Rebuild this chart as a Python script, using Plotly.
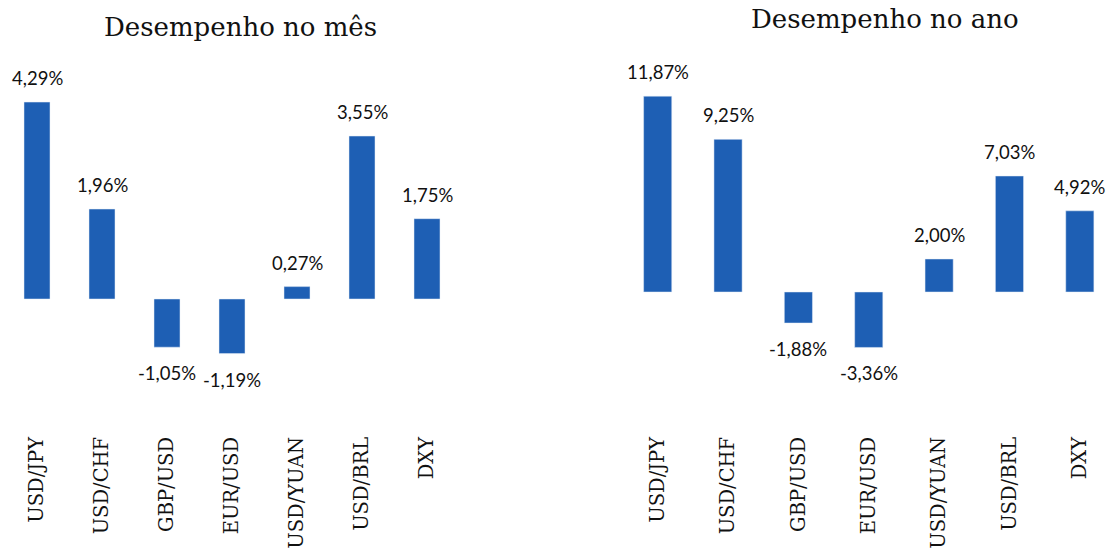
import plotly.graph_objects as go

categories = ["USD/JPY", "USD/CHF", "GBP/USD", "EUR/USD", "USD/YUAN", "USD/BRL", "DXY"]
month_values = [4.29, 1.96, -1.05, -1.19, 0.27, 3.55, 1.75]
year_values = [11.87, 9.25, -1.88, -3.36, 2.00, 7.03, 4.92]
titles = ["Desempenho no mês", "Desempenho no ano"]

BAR = "#1E5FB4"
W, H = 1115, 555

def fmt(v):
    return f"{v:.2f}".replace(".", ",") + "%"

fig = go.Figure()
fig.add_trace(go.Bar(x=categories, y=month_values, marker_color=BAR, xaxis="x", yaxis="y",
                     hoverinfo="x+y"))
fig.add_trace(go.Bar(x=categories, y=year_values, marker_color=BAR, xaxis="x2", yaxis="y2",
                     hoverinfo="x+y"))

annotations = []
for vals, xa, ya in [(month_values, "x", "y"), (year_values, "x2", "y2")]:
    for c, v in zip(categories, vals):
        annotations.append(dict(
            x=c, y=v, xref=xa, yref=ya, text=fmt(v), showarrow=False,
            yshift=24 if v >= 0 else -26, yanchor="middle",
            font=dict(family="Lato", size=18.5, color="#111111")))

annotations.append(dict(x=240 / W, y=1 - 27 / H, xref="paper", yref="paper", text=titles[0],
                        showarrow=False, xanchor="center", yanchor="middle",
                        font=dict(family="DejaVu Serif", size=26, color="#111111")))
annotations.append(dict(x=885 / W, y=1 - 2 / H, xref="paper", yref="paper", text=titles[1],
                        showarrow=False, xanchor="center", yanchor="top",
                        font=dict(family="DejaVu Serif", size=26, color="#111111")))

ydom = [(H - 432) / H, (H - 40) / H]
axis_common = dict(showgrid=False, zeroline=False, showline=False, ticks="",
                   tickangle=-90, tickfont=dict(family="DejaVu Serif", size=19.5, color="#111111"),
                   fixedrange=True)
yaxis_common = dict(showgrid=False, zeroline=False, showline=False, showticklabels=False,
                    ticks="", domain=ydom, fixedrange=True)

fig.update_layout(
    width=W, height=H,
    margin=dict(l=0, r=0, t=0, b=0),
    paper_bgcolor="white", plot_bgcolor="white",
    showlegend=False, bargap=0.6,
    xaxis=dict(domain=[4.5 / W, 459.5 / W], anchor="y", **axis_common),
    xaxis2=dict(domain=[622.5 / W, 1.0], anchor="y2", **axis_common),
    yaxis=dict(range=[-(432 - 299) / 45.9, (299 - 40) / 45.9], anchor="x", **yaxis_common),
    yaxis2=dict(range=[-(432 - 292) / 16.5, (292 - 40) / 16.5], anchor="x2", **yaxis_common),
    annotations=annotations,
)

fig.write_html("out.html")
